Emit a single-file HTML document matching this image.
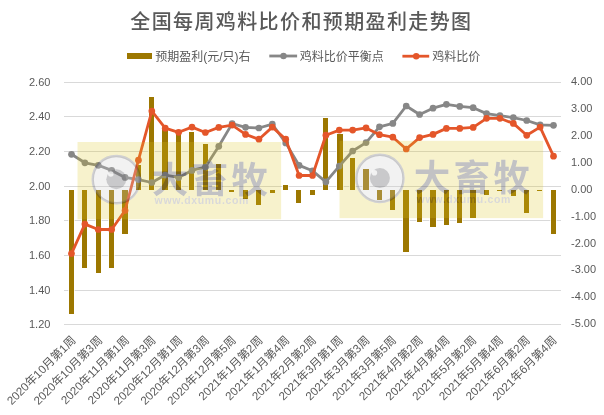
<!DOCTYPE html><html><head><meta charset="utf-8"><style>
html,body{margin:0;padding:0;background:#fff;width:604px;height:415px;overflow:hidden}
svg{display:block;will-change:transform}
text{font-family:"Liberation Sans", "Noto Sans CJK SC", sans-serif}
</style></head><body>
<svg width="604" height="415" viewBox="0 0 604 415">
<rect width="604" height="415" fill="#fff"/>
<text x="301.4" y="28.6" text-anchor="middle" font-size="20" font-weight="500" fill="#595959" letter-spacing="1.38">全国每周鸡料比价和预期盈利走势图</text>
<rect x="127" y="53" width="25" height="6" fill="#9C7700"/>
<text x="155.2" y="60.6" font-size="12" fill="#595959">预期盈利(元/只)右</text>
<line x1="269.3" y1="56" x2="297.1" y2="56" stroke="#878787" stroke-width="2.8"/><circle cx="283.5" cy="56" r="3.2" fill="#878787"/>
<text x="299.7" y="60.6" font-size="12" fill="#595959">鸡料比价平衡点</text>
<line x1="402.4" y1="56.2" x2="429.2" y2="56.2" stroke="#E4562A" stroke-width="2.8"/><circle cx="416.2" cy="56.2" r="3.2" fill="#E4562A"/>
<text x="432.3" y="60.6" font-size="12" fill="#595959">鸡料比价</text>
<rect x="64" y="82.00" width="497" height="1" fill="#D9D9D9"/>
<rect x="64" y="116.00" width="497" height="1" fill="#D9D9D9"/>
<rect x="64" y="151.00" width="497" height="1" fill="#D9D9D9"/>
<rect x="64" y="186.00" width="497" height="1" fill="#D9D9D9"/>
<rect x="64" y="220.00" width="497" height="1" fill="#D9D9D9"/>
<rect x="64" y="255.00" width="497" height="1" fill="#D9D9D9"/>
<rect x="64" y="290.00" width="497" height="1" fill="#D9D9D9"/>
<rect x="64" y="324.00" width="497" height="1" fill="#D9D9D9"/>
<text x="50.4" y="85.70" text-anchor="end" font-size="11" fill="#595959">2.60</text>
<text x="50.4" y="119.70" text-anchor="end" font-size="11" fill="#595959">2.40</text>
<text x="50.4" y="154.70" text-anchor="end" font-size="11" fill="#595959">2.20</text>
<text x="50.4" y="189.70" text-anchor="end" font-size="11" fill="#595959">2.00</text>
<text x="50.4" y="223.70" text-anchor="end" font-size="11" fill="#595959">1.80</text>
<text x="50.4" y="258.70" text-anchor="end" font-size="11" fill="#595959">1.60</text>
<text x="50.4" y="293.70" text-anchor="end" font-size="11" fill="#595959">1.40</text>
<text x="50.4" y="327.70" text-anchor="end" font-size="11" fill="#595959">1.20</text>
<text x="571.0" y="85.20" font-size="11" fill="#595959">4.00</text>
<text x="571.0" y="112.09" font-size="11" fill="#595959">3.00</text>
<text x="571.0" y="138.98" font-size="11" fill="#595959">2.00</text>
<text x="571.0" y="165.87" font-size="11" fill="#595959">1.00</text>
<text x="571.0" y="192.76" font-size="11" fill="#595959">0.00</text>
<text x="571.0" y="219.65" font-size="11" fill="#595959">-1.00</text>
<text x="571.0" y="246.54" font-size="11" fill="#595959">-2.00</text>
<text x="571.0" y="273.43" font-size="11" fill="#595959">-3.00</text>
<text x="571.0" y="300.32" font-size="11" fill="#595959">-4.00</text>
<text x="571.0" y="327.21" font-size="11" fill="#595959">-5.00</text>
<rect x="68.00" y="189.00" width="7" height="126.00" fill="#fff" fill-opacity="0.7"/>
<rect x="69.00" y="190.00" width="5" height="124.00" fill="#9C7700"/>
<rect x="81.00" y="189.00" width="7" height="80.00" fill="#fff" fill-opacity="0.7"/>
<rect x="82.00" y="190.00" width="5" height="78.00" fill="#9C7700"/>
<rect x="95.00" y="189.00" width="7" height="85.00" fill="#fff" fill-opacity="0.7"/>
<rect x="96.00" y="190.00" width="5" height="83.00" fill="#9C7700"/>
<rect x="108.00" y="189.00" width="7" height="80.00" fill="#fff" fill-opacity="0.7"/>
<rect x="109.00" y="190.00" width="5" height="78.00" fill="#9C7700"/>
<rect x="121.00" y="189.00" width="8" height="46.00" fill="#fff" fill-opacity="0.7"/>
<rect x="122.00" y="190.00" width="6" height="44.00" fill="#9C7700"/>
<rect x="135.00" y="164.00" width="7" height="27.00" fill="#fff" fill-opacity="0.7"/>
<rect x="136.00" y="165.00" width="5" height="25.00" fill="#9C7700"/>
<rect x="148.00" y="96.00" width="7" height="95.00" fill="#fff" fill-opacity="0.7"/>
<rect x="149.00" y="97.00" width="5" height="93.00" fill="#9C7700"/>
<rect x="161.00" y="127.00" width="8" height="64.00" fill="#fff" fill-opacity="0.7"/>
<rect x="162.00" y="128.00" width="6" height="62.00" fill="#9C7700"/>
<rect x="175.00" y="131.00" width="7" height="60.00" fill="#fff" fill-opacity="0.7"/>
<rect x="176.00" y="132.00" width="5" height="58.00" fill="#9C7700"/>
<rect x="188.00" y="131.00" width="7" height="60.00" fill="#fff" fill-opacity="0.7"/>
<rect x="189.00" y="132.00" width="5" height="58.00" fill="#9C7700"/>
<rect x="202.00" y="143.00" width="7" height="48.00" fill="#fff" fill-opacity="0.7"/>
<rect x="203.00" y="144.00" width="5" height="46.00" fill="#9C7700"/>
<rect x="215.00" y="163.00" width="7" height="28.00" fill="#fff" fill-opacity="0.7"/>
<rect x="216.00" y="164.00" width="5" height="26.00" fill="#9C7700"/>
<rect x="228.00" y="189.00" width="7" height="4.00" fill="#fff" fill-opacity="0.7"/>
<rect x="229.00" y="190.00" width="5" height="2.00" fill="#9C7700"/>
<rect x="242.00" y="189.00" width="7" height="11.00" fill="#fff" fill-opacity="0.7"/>
<rect x="243.00" y="190.00" width="5" height="9.00" fill="#9C7700"/>
<rect x="255.00" y="189.00" width="7" height="17.00" fill="#fff" fill-opacity="0.7"/>
<rect x="256.00" y="190.00" width="5" height="15.00" fill="#9C7700"/>
<rect x="269.00" y="189.00" width="7" height="5.00" fill="#fff" fill-opacity="0.7"/>
<rect x="270.00" y="190.00" width="5" height="3.00" fill="#9C7700"/>
<rect x="282.00" y="184.00" width="7" height="7.00" fill="#fff" fill-opacity="0.7"/>
<rect x="283.00" y="185.00" width="5" height="5.00" fill="#9C7700"/>
<rect x="295.00" y="189.00" width="7" height="15.00" fill="#fff" fill-opacity="0.7"/>
<rect x="296.00" y="190.00" width="5" height="13.00" fill="#9C7700"/>
<rect x="309.00" y="189.00" width="7" height="7.00" fill="#fff" fill-opacity="0.7"/>
<rect x="310.00" y="190.00" width="5" height="5.00" fill="#9C7700"/>
<rect x="322.00" y="117.00" width="7" height="74.00" fill="#fff" fill-opacity="0.7"/>
<rect x="323.00" y="118.00" width="5" height="72.00" fill="#9C7700"/>
<rect x="336.00" y="133.00" width="8" height="58.00" fill="#fff" fill-opacity="0.7"/>
<rect x="337.00" y="134.00" width="6" height="56.00" fill="#9C7700"/>
<rect x="349.00" y="157.00" width="7" height="34.00" fill="#fff" fill-opacity="0.7"/>
<rect x="350.00" y="158.00" width="5" height="32.00" fill="#9C7700"/>
<rect x="362.00" y="168.00" width="8" height="23.00" fill="#fff" fill-opacity="0.7"/>
<rect x="363.00" y="169.00" width="6" height="21.00" fill="#9C7700"/>
<rect x="376.00" y="189.00" width="7" height="12.00" fill="#fff" fill-opacity="0.7"/>
<rect x="377.00" y="190.00" width="5" height="10.00" fill="#9C7700"/>
<rect x="389.00" y="189.00" width="7" height="22.00" fill="#fff" fill-opacity="0.7"/>
<rect x="390.00" y="190.00" width="5" height="20.00" fill="#9C7700"/>
<rect x="402.00" y="189.00" width="8" height="64.00" fill="#fff" fill-opacity="0.7"/>
<rect x="403.00" y="190.00" width="6" height="62.00" fill="#9C7700"/>
<rect x="416.00" y="189.00" width="7" height="34.00" fill="#fff" fill-opacity="0.7"/>
<rect x="417.00" y="190.00" width="5" height="32.00" fill="#9C7700"/>
<rect x="429.00" y="189.00" width="8" height="39.00" fill="#fff" fill-opacity="0.7"/>
<rect x="430.00" y="190.00" width="6" height="37.00" fill="#9C7700"/>
<rect x="443.00" y="189.00" width="7" height="37.00" fill="#fff" fill-opacity="0.7"/>
<rect x="444.00" y="190.00" width="5" height="35.00" fill="#9C7700"/>
<rect x="456.00" y="189.00" width="7" height="35.00" fill="#fff" fill-opacity="0.7"/>
<rect x="457.00" y="190.00" width="5" height="33.00" fill="#9C7700"/>
<rect x="469.00" y="189.00" width="8" height="30.00" fill="#fff" fill-opacity="0.7"/>
<rect x="470.00" y="190.00" width="6" height="28.00" fill="#9C7700"/>
<rect x="483.00" y="189.00" width="7" height="7.00" fill="#fff" fill-opacity="0.7"/>
<rect x="484.00" y="190.00" width="5" height="5.00" fill="#9C7700"/>
<rect x="496.00" y="189.00" width="7" height="3.00" fill="#fff" fill-opacity="0.7"/>
<rect x="497.00" y="190.00" width="5" height="1.00" fill="#9C7700"/>
<rect x="510.00" y="189.00" width="7" height="8.00" fill="#fff" fill-opacity="0.7"/>
<rect x="511.00" y="190.00" width="5" height="6.00" fill="#9C7700"/>
<rect x="523.00" y="189.00" width="7" height="25.00" fill="#fff" fill-opacity="0.7"/>
<rect x="524.00" y="190.00" width="5" height="23.00" fill="#9C7700"/>
<rect x="536.00" y="189.00" width="7" height="3.00" fill="#fff" fill-opacity="0.7"/>
<rect x="537.00" y="190.00" width="5" height="1.00" fill="#9C7700"/>
<rect x="550.00" y="189.00" width="7" height="46.00" fill="#fff" fill-opacity="0.7"/>
<rect x="551.00" y="190.00" width="5" height="44.00" fill="#9C7700"/>
<polyline points="71.49,154.30 84.88,162.80 98.27,165.30 111.66,170.40 125.05,177.40 138.44,179.60 151.83,182.50 165.22,175.10 178.61,177.40 192.00,170.40 205.39,167.00 218.78,146.30 232.16,123.60 245.55,127.30 258.94,128.00 272.33,124.20 285.72,142.90 299.11,165.40 312.50,170.80 325.89,181.90 339.28,166.10 352.67,151.00 366.06,142.60 379.45,126.80 392.84,123.40 406.22,106.00 419.61,114.50 433.00,108.20 446.39,104.30 459.78,106.40 473.17,107.70 486.56,113.60 499.95,115.60 513.34,117.60 526.73,120.50 540.12,124.90 553.51,125.30" fill="none" stroke="#878787" stroke-width="2.8" stroke-linejoin="round"/><circle cx="71.49" cy="154.30" r="3.35" fill="#878787"/><circle cx="84.88" cy="162.80" r="3.35" fill="#878787"/><circle cx="98.27" cy="165.30" r="3.35" fill="#878787"/><circle cx="111.66" cy="170.40" r="3.35" fill="#878787"/><circle cx="125.05" cy="177.40" r="3.35" fill="#878787"/><circle cx="138.44" cy="179.60" r="3.35" fill="#878787"/><circle cx="151.83" cy="182.50" r="3.35" fill="#878787"/><circle cx="165.22" cy="175.10" r="3.35" fill="#878787"/><circle cx="178.61" cy="177.40" r="3.35" fill="#878787"/><circle cx="192.00" cy="170.40" r="3.35" fill="#878787"/><circle cx="205.39" cy="167.00" r="3.35" fill="#878787"/><circle cx="218.78" cy="146.30" r="3.35" fill="#878787"/><circle cx="232.16" cy="123.60" r="3.35" fill="#878787"/><circle cx="245.55" cy="127.30" r="3.35" fill="#878787"/><circle cx="258.94" cy="128.00" r="3.35" fill="#878787"/><circle cx="272.33" cy="124.20" r="3.35" fill="#878787"/><circle cx="285.72" cy="142.90" r="3.35" fill="#878787"/><circle cx="299.11" cy="165.40" r="3.35" fill="#878787"/><circle cx="312.50" cy="170.80" r="3.35" fill="#878787"/><circle cx="325.89" cy="181.90" r="3.35" fill="#878787"/><circle cx="339.28" cy="166.10" r="3.35" fill="#878787"/><circle cx="352.67" cy="151.00" r="3.35" fill="#878787"/><circle cx="366.06" cy="142.60" r="3.35" fill="#878787"/><circle cx="379.45" cy="126.80" r="3.35" fill="#878787"/><circle cx="392.84" cy="123.40" r="3.35" fill="#878787"/><circle cx="406.22" cy="106.00" r="3.35" fill="#878787"/><circle cx="419.61" cy="114.50" r="3.35" fill="#878787"/><circle cx="433.00" cy="108.20" r="3.35" fill="#878787"/><circle cx="446.39" cy="104.30" r="3.35" fill="#878787"/><circle cx="459.78" cy="106.40" r="3.35" fill="#878787"/><circle cx="473.17" cy="107.70" r="3.35" fill="#878787"/><circle cx="486.56" cy="113.60" r="3.35" fill="#878787"/><circle cx="499.95" cy="115.60" r="3.35" fill="#878787"/><circle cx="513.34" cy="117.60" r="3.35" fill="#878787"/><circle cx="526.73" cy="120.50" r="3.35" fill="#878787"/><circle cx="540.12" cy="124.90" r="3.35" fill="#878787"/><circle cx="553.51" cy="125.30" r="3.35" fill="#878787"/>
<polyline points="71.49,253.60 84.88,224.10 98.27,229.50 111.66,229.50 125.05,210.50 138.44,160.20 151.83,111.10 165.22,128.20 178.61,132.30 192.00,127.10 205.39,132.50 218.78,127.40 232.16,125.10 245.55,134.40 258.94,139.20 272.33,127.10 285.72,139.20 299.11,175.50 312.50,175.50 325.89,135.20 339.28,130.10 352.67,130.10 366.06,127.90 379.45,134.70 392.84,137.20 406.22,149.00 419.61,137.60 433.00,134.40 446.39,128.40 459.78,128.40 473.17,127.40 486.56,118.30 499.95,118.30 513.34,123.40 526.73,135.30 540.12,127.10 553.51,156.20" fill="none" stroke="#E4562A" stroke-width="2.8" stroke-linejoin="round"/><circle cx="71.49" cy="253.60" r="3.35" fill="#E4562A"/><circle cx="84.88" cy="224.10" r="3.35" fill="#E4562A"/><circle cx="98.27" cy="229.50" r="3.35" fill="#E4562A"/><circle cx="111.66" cy="229.50" r="3.35" fill="#E4562A"/><circle cx="125.05" cy="210.50" r="3.35" fill="#E4562A"/><circle cx="138.44" cy="160.20" r="3.35" fill="#E4562A"/><circle cx="151.83" cy="111.10" r="3.35" fill="#E4562A"/><circle cx="165.22" cy="128.20" r="3.35" fill="#E4562A"/><circle cx="178.61" cy="132.30" r="3.35" fill="#E4562A"/><circle cx="192.00" cy="127.10" r="3.35" fill="#E4562A"/><circle cx="205.39" cy="132.50" r="3.35" fill="#E4562A"/><circle cx="218.78" cy="127.40" r="3.35" fill="#E4562A"/><circle cx="232.16" cy="125.10" r="3.35" fill="#E4562A"/><circle cx="245.55" cy="134.40" r="3.35" fill="#E4562A"/><circle cx="258.94" cy="139.20" r="3.35" fill="#E4562A"/><circle cx="272.33" cy="127.10" r="3.35" fill="#E4562A"/><circle cx="285.72" cy="139.20" r="3.35" fill="#E4562A"/><circle cx="299.11" cy="175.50" r="3.35" fill="#E4562A"/><circle cx="312.50" cy="175.50" r="3.35" fill="#E4562A"/><circle cx="325.89" cy="135.20" r="3.35" fill="#E4562A"/><circle cx="339.28" cy="130.10" r="3.35" fill="#E4562A"/><circle cx="352.67" cy="130.10" r="3.35" fill="#E4562A"/><circle cx="366.06" cy="127.90" r="3.35" fill="#E4562A"/><circle cx="379.45" cy="134.70" r="3.35" fill="#E4562A"/><circle cx="392.84" cy="137.20" r="3.35" fill="#E4562A"/><circle cx="406.22" cy="149.00" r="3.35" fill="#E4562A"/><circle cx="419.61" cy="137.60" r="3.35" fill="#E4562A"/><circle cx="433.00" cy="134.40" r="3.35" fill="#E4562A"/><circle cx="446.39" cy="128.40" r="3.35" fill="#E4562A"/><circle cx="459.78" cy="128.40" r="3.35" fill="#E4562A"/><circle cx="473.17" cy="127.40" r="3.35" fill="#E4562A"/><circle cx="486.56" cy="118.30" r="3.35" fill="#E4562A"/><circle cx="499.95" cy="118.30" r="3.35" fill="#E4562A"/><circle cx="513.34" cy="123.40" r="3.35" fill="#E4562A"/><circle cx="526.73" cy="135.30" r="3.35" fill="#E4562A"/><circle cx="540.12" cy="127.10" r="3.35" fill="#E4562A"/><circle cx="553.51" cy="156.20" r="3.35" fill="#E4562A"/>
<mask id="wmm1" maskUnits="userSpaceOnUse" x="0" y="0" width="604" height="415"><rect x="0" y="0" width="604" height="415" fill="#fff"/><circle cx="116.3" cy="179.6" r="24.8" fill="#000"/><text x="151.8" y="192.6" font-size="36.5" font-weight="700" letter-spacing="3.4" font-family="'Noto Sans CJK SC', sans-serif" fill="#000">大畜牧</text><text x="154.6" y="204.0" font-size="10.5" font-weight="bold" letter-spacing="0.65" font-family="'DejaVu Sans', sans-serif" fill="#000">www.dxumu.com</text></mask><rect x="77.5" y="142.0" width="203.6" height="77.3" fill="rgb(218,196,25)" fill-opacity="0.225" mask="url(#wmm1)"/><circle cx="116.3" cy="179.6" r="23.6" fill="rgb(207,207,207)" fill-opacity="0.27" stroke="rgb(64,64,72)" stroke-opacity="0.24" stroke-width="2.4"/><circle cx="116.3" cy="179.3" r="10" fill="rgb(64,64,72)" fill-opacity="0.23"/><circle cx="110.8" cy="174.0" r="2.8" fill="#fff" fill-opacity="0.75"/><text x="151.8" y="192.6" font-size="36.5" font-weight="700" letter-spacing="3.4" font-family="'Noto Sans CJK SC', sans-serif" fill="rgb(64,64,72)" fill-opacity="0.32">大畜牧</text><text x="154.6" y="204.0" font-size="10.5" font-weight="bold" letter-spacing="0.65" font-family="'DejaVu Sans', sans-serif" fill="rgb(64,64,72)" fill-opacity="0.2">www.dxumu.com</text>
<mask id="wmm2" maskUnits="userSpaceOnUse" x="0" y="0" width="604" height="415"><rect x="0" y="0" width="604" height="415" fill="#fff"/><circle cx="379.9" cy="178.4" r="24.8" fill="#000"/><text x="413.8" y="191.4" font-size="36.5" font-weight="700" letter-spacing="3.4" font-family="'Noto Sans CJK SC', sans-serif" fill="#000">大畜牧</text><text x="416.6" y="202.8" font-size="10.5" font-weight="bold" letter-spacing="0.65" font-family="'DejaVu Sans', sans-serif" fill="#000">www.dxumu.com</text></mask><rect x="339.5" y="140.8" width="203.6" height="77.3" fill="rgb(218,196,25)" fill-opacity="0.225" mask="url(#wmm2)"/><circle cx="379.9" cy="178.4" r="23.6" fill="rgb(207,207,207)" fill-opacity="0.27" stroke="rgb(64,64,72)" stroke-opacity="0.24" stroke-width="2.4"/><circle cx="379.9" cy="178.1" r="10" fill="rgb(64,64,72)" fill-opacity="0.23"/><circle cx="374.4" cy="172.8" r="2.8" fill="#fff" fill-opacity="0.75"/><text x="413.8" y="191.4" font-size="36.5" font-weight="700" letter-spacing="3.4" font-family="'Noto Sans CJK SC', sans-serif" fill="rgb(64,64,72)" fill-opacity="0.32">大畜牧</text><text x="416.6" y="202.8" font-size="10.5" font-weight="bold" letter-spacing="0.65" font-family="'DejaVu Sans', sans-serif" fill="rgb(64,64,72)" fill-opacity="0.2">www.dxumu.com</text>
<text transform="translate(76.39,340.90) rotate(-45)" text-anchor="end" font-size="11.6" fill="#595959">2020年10月第1周</text>
<text transform="translate(103.12,340.90) rotate(-45)" text-anchor="end" font-size="11.6" fill="#595959">2020年10月第3周</text>
<text transform="translate(129.84,340.90) rotate(-45)" text-anchor="end" font-size="11.6" fill="#595959">2020年11月第1周</text>
<text transform="translate(156.56,340.90) rotate(-45)" text-anchor="end" font-size="11.6" fill="#595959">2020年11月第3周</text>
<text transform="translate(183.29,340.90) rotate(-45)" text-anchor="end" font-size="11.6" fill="#595959">2020年12月第1周</text>
<text transform="translate(210.01,340.90) rotate(-45)" text-anchor="end" font-size="11.6" fill="#595959">2020年12月第3周</text>
<text transform="translate(236.73,340.90) rotate(-45)" text-anchor="end" font-size="11.6" fill="#595959">2020年12月第5周</text>
<text transform="translate(263.45,340.90) rotate(-45)" text-anchor="end" font-size="11.6" fill="#595959">2021年1月第2周</text>
<text transform="translate(290.18,340.90) rotate(-45)" text-anchor="end" font-size="11.6" fill="#595959">2021年1月第4周</text>
<text transform="translate(316.90,340.90) rotate(-45)" text-anchor="end" font-size="11.6" fill="#595959">2021年2月第2周</text>
<text transform="translate(343.62,340.90) rotate(-45)" text-anchor="end" font-size="11.6" fill="#595959">2021年3月第1周</text>
<text transform="translate(370.35,340.90) rotate(-45)" text-anchor="end" font-size="11.6" fill="#595959">2021年3月第3周</text>
<text transform="translate(397.07,340.90) rotate(-45)" text-anchor="end" font-size="11.6" fill="#595959">2021年3月第5周</text>
<text transform="translate(423.79,340.90) rotate(-45)" text-anchor="end" font-size="11.6" fill="#595959">2021年4月第2周</text>
<text transform="translate(450.51,340.90) rotate(-45)" text-anchor="end" font-size="11.6" fill="#595959">2021年4月第4周</text>
<text transform="translate(477.24,340.90) rotate(-45)" text-anchor="end" font-size="11.6" fill="#595959">2021年5月第2周</text>
<text transform="translate(503.96,340.90) rotate(-45)" text-anchor="end" font-size="11.6" fill="#595959">2021年5月第4周</text>
<text transform="translate(530.68,340.90) rotate(-45)" text-anchor="end" font-size="11.6" fill="#595959">2021年6月第2周</text>
<text transform="translate(557.41,340.90) rotate(-45)" text-anchor="end" font-size="11.6" fill="#595959">2021年6月第4周</text>
</svg></body></html>
